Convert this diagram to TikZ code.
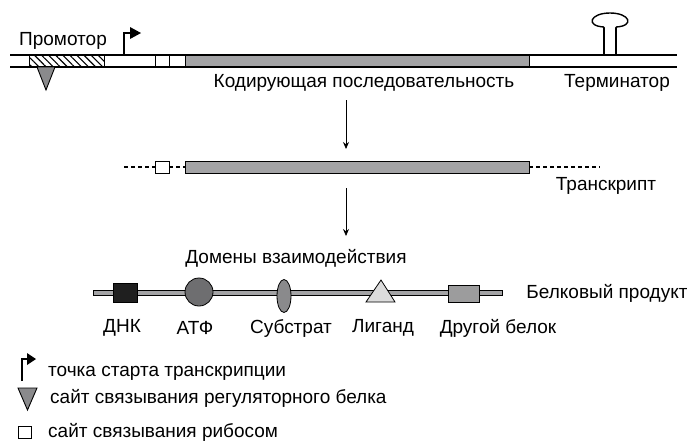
\documentclass[tikz,border=0pt]{standalone}
\usepackage{fontspec}
\setmainfont{Liberation Sans}
\usetikzlibrary{patterns.meta,shapes.geometric,arrows.meta}
\definecolor{bargray}{HTML}{A3A3A5}
\definecolor{darkgray}{HTML}{6E6E70}
\definecolor{midgray}{HTML}{8A8A8C}
\definecolor{lightgray}{HTML}{DCDCDC}
\tikzset{
  lbl/.style={font=\fontsize{19}{22}\selectfont, inner sep=0pt},
  dnaline/.style={line width=1.6pt},
  boxline/.style={draw=black, line width=0.9pt},
  flow/.style={line width=0.8pt, -{Stealth[length=7pt,width=6pt]}},
  dashline/.style={line width=1.4pt, dash pattern=on 4pt off 3pt},
}
\begin{document}
\begin{tikzpicture}[x=1pt,y=-1pt]
\useasboundingbox (0,0) rectangle (687,445);

% --- gene on DNA ---
\fill[white] (10,55) rectangle (677,67);
\filldraw[fill=white, boxline] (104,55) rectangle (155,67);
\fill[pattern={Lines[angle=-45,distance=5pt,line width=1.1pt]}] (29,55) rectangle (104,67);
\draw[boxline] (29,55) rectangle (104,67);
\filldraw[fill=white, boxline] (155,55) rectangle (169,67);
\filldraw[fill=white, boxline] (169,55) rectangle (185,67);
\filldraw[fill=bargray, boxline] (185,55) rectangle (529,67);
\draw[dnaline] (10,55) -- (677,55);
\draw[dnaline] (10,67) -- (677,67);
% regulatory protein binding site
\filldraw[fill=midgray, draw=black, line width=0.9pt] (37,67) -- (55,67) -- (46,90) -- cycle;
% transcription start
\draw[line width=1.5pt] (124,55) -- (124,33) -- (131,33);
\fill (130,27) -- (141,33) -- (130,39) -- cycle;
% terminator hairpin
\draw[line width=1.4pt] (604,55) -- (604,27);
\draw[line width=1.4pt] (616,55) -- (616,27);
\draw[line width=1.4pt, fill=white] (604,27) .. controls (585,26) and (590,13) .. (610,13)
  .. controls (630,13) and (635,26) .. (616,27);

\node[lbl] (prom) at (63,41) {Промотор};
\node[lbl] (cds) at (364,83) {Кодирующая последовательность};
\node[lbl] (term) at (617,83) {Терминатор};

% --- transcript ---
\coordinate (a1s) at (346,100);
\coordinate (a1e) at (346,149);
\draw[flow] (a1s) -- (a1e);
\draw[dashline] (124,167) -- (155,167);
\draw[dashline] (169,167) -- (185,167);
\draw[dashline] (529,167) -- (600,167);
\filldraw[fill=white, boxline] (155,161) rectangle (169,173);
\filldraw[fill=bargray, boxline] (185,161) rectangle (529,173);
\node[lbl] (tr) at (606,186) {Транскрипт};

% --- protein ---
\coordinate (a2s) at (346,188);
\coordinate (a2e) at (346,236);
\draw[flow] (a2s) -- (a2e);
\node[lbl] (dom) at (296,258) {Домены взаимодействия};
\filldraw[fill=bargray, draw=black, line width=0.7pt] (93,290) rectangle (502,295);
\filldraw[fill=black!88, draw=black, line width=0.7pt] (113,283) rectangle (137,302);
\filldraw[fill=darkgray, draw=black, line width=0.8pt] (199,292) circle (14);
\filldraw[fill=midgray, draw=black, line width=0.8pt] (284,296) ellipse (7 and 16.5);
\filldraw[fill=lightgray, draw=black, line width=0.8pt] (366,302) -- (381,280) -- (395,302) -- cycle;
\filldraw[fill=midgray!85, draw=black, line width=0.8pt] (448,285) rectangle (479,302);
\node[lbl] (prot) at (607,293) {Белковый продукт};
\node[lbl] (l1) at (122,328) {ДНК};
\node[lbl] (l2) at (195,328) {АТФ};
\node[lbl] (l3) at (291,328) {Субстрат};
\node[lbl] (l4) at (383,328) {Лиганд};
\node[lbl] (l5) at (498,328) {Другой белок};

% --- legend ---
\draw[line width=1.5pt] (22,381) -- (22,359) -- (28,359);
\fill (27,353) -- (36,359) -- (27,365) -- cycle;
\node[lbl, anchor=west] (k1) at (48,373) {точка старта транскрипции};
\filldraw[fill=midgray, draw=black, line width=0.9pt] (18,388) -- (37,388) -- (27.5,410) -- cycle;
\node[lbl, anchor=west] (k2) at (50,398) {сайт связывания регуляторного белка};
\draw[line width=0.8pt] (18.5,426) rectangle (31.5,438);
\node[lbl, anchor=west] (k3) at (48,432) {сайт связывания рибосом};
\end{tikzpicture}
\end{document}
